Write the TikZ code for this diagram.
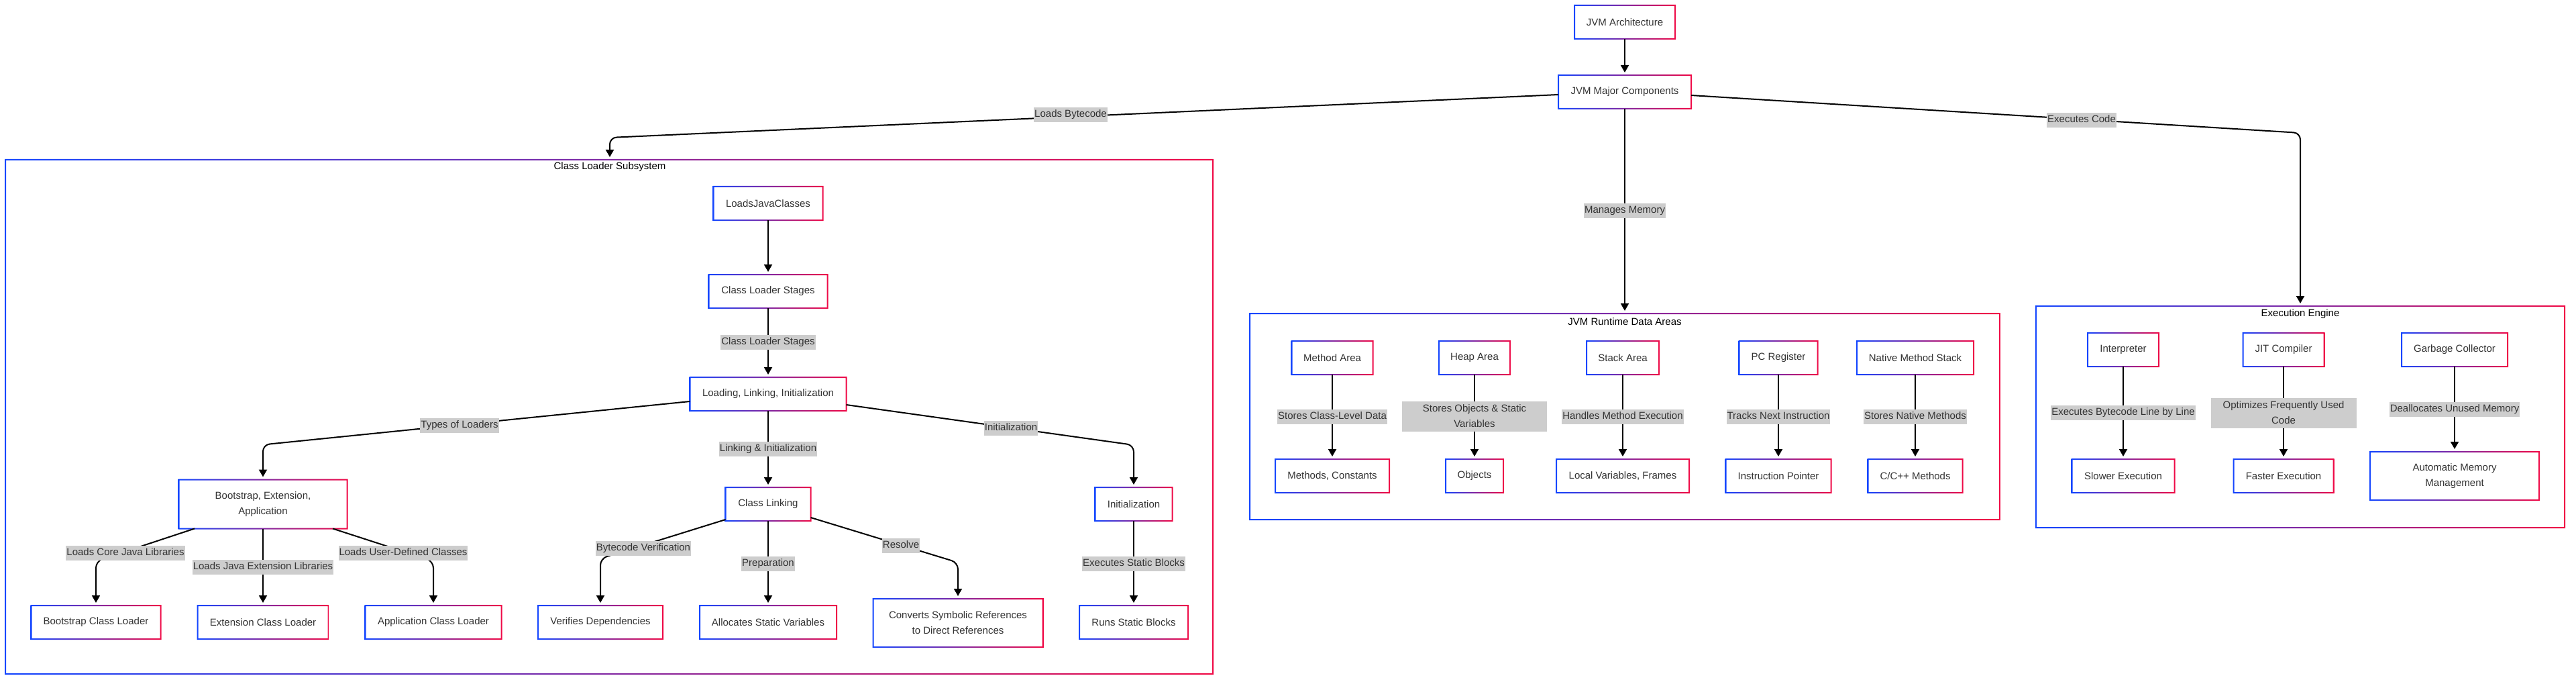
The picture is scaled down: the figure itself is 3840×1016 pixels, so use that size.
\documentclass[tikz,border=0pt]{standalone}
\usepackage{fontspec}
\setmainfont{Liberation Sans}
\usetikzlibrary{arrows.meta,calc}
\definecolor{gblue}{RGB}{20,70,255}
\definecolor{gred}{RGB}{240,10,70}
\definecolor{txt}{RGB}{51,51,51}
\definecolor{lblgray}{RGB}{205,205,205}
\newcommand\gborder[1]{%
  \shade[left color=gblue, right color=gred, even odd rule]
    ($(#1.south west)+(-1,1)$) rectangle ($(#1.north east)+(1,-1)$)
    ($(#1.south west)+(1,-1)$) rectangle ($(#1.north east)+(-1,1)$);}
\tikzset{
  box/.style={rectangle, fill=white, draw=none, outer sep=0pt, inner sep=0pt,
    text=txt, font=\fontsize{15}{23}\selectfont, align=center},
  sz/.style 2 args={minimum width=#1pt, minimum height=#2pt},
  clus/.style={rectangle, fill=white, draw=none, outer sep=0pt, inner sep=0pt},
  ctitle/.style={font=\fontsize{15}{18}\selectfont, text=black, inner sep=0pt},
  conn/.style={draw=black, line width=2pt, rounded corners=10pt,
    -{Triangle[width=12pt,length=11pt]}, shorten >=4pt},
  lbl/.style={fill=lblgray, text=txt, font=\fontsize{15}{23}\selectfont,
    inner xsep=1pt, inner ysep=4pt, text height=11pt, text depth=3.5pt},
  lblm/.style={fill=lblgray, text=txt, font=\fontsize{15}{23}\selectfont,
    inner xsep=1pt, inner ysep=0pt, align=center, minimum height=45pt},
}
\begin{document}
\begin{tikzpicture}[x=1pt, y=-1pt]
\useasboundingbox[fill=white] (0,0) rectangle (3840,1016);

% clusters
\node[clus, sz={1800}{766}] (clsub) at (908,621) {};
\gborder{clsub}
\node[ctitle] (clsubt) at (909,249) {Class Loader Subsystem};
\node[clus, sz={1118}{307}] (rt) at (2422,620.5) {};
\gborder{rt}
\node[ctitle] (rtt) at (2422,479) {JVM Runtime Data Areas};
\node[clus, sz={788}{330}] (ex) at (3429,621) {};
\gborder{ex}
\node[ctitle] (ext) at (3429,468) {Execution Engine};

% top
\node[box, sz={150}{50}] (arch) at (2422,33) {JVM Architecture};
\node[box, sz={198}{50}] (major) at (2422,137) {JVM Major Components};

% class loader subsystem
\node[box, sz={163}{50}] (ljc) at (1145,303) {LoadsJavaClasses};
\node[box, sz={177}{50}] (cls) at (1145,434) {Class Loader Stages};
\node[box, sz={233}{50}] (lli) at (1145,587) {Loading, Linking, Initialization};
\node[box, sz={251}{73}] (bea) at (392,751) {Bootstrap, Extension,\\Application};
\node[box, sz={127}{50}] (cl) at (1145,751) {Class Linking};
\node[box, sz={115}{50}] (ini) at (1690,751) {Initialization};
\node[box, sz={193}{50}] (bcl) at (143,927) {Bootstrap Class Loader};
\node[box, sz={195}{50}] (ecl) at (392,927) {Extension Class Loader};
\node[box, sz={203}{50}] (acl) at (646,927) {Application Class Loader};
\node[box, sz={186}{50}] (vd) at (895,927) {Verifies Dependencies};
\node[box, sz={204}{50}] (asv) at (1145,927) {Allocates Static Variables};
\node[box, sz={253}{72}] (csr) at (1428,928) {Converts Symbolic References\\to Direct References};
\node[box, sz={162}{50}] (rsb) at (1690,927) {Runs Static Blocks};

% runtime data areas
\node[box, sz={121}{50}] (ma) at (1986,533) {Method Area};
\node[box, sz={106}{50}] (ha) at (2198,533) {Heap Area};
\node[box, sz={108}{50}] (sa) at (2419,533) {Stack Area};
\node[box, sz={117}{50}] (pc) at (2651,533) {PC Register};
\node[box, sz={174}{50}] (nms) at (2855,533) {Native Method Stack};
\node[box, sz={170}{50}] (mc) at (1986,709) {Methods, Constants};
\node[box, sz={86}{50}] (ob) at (2198,709) {Objects};
\node[box, sz={198}{50}] (lvf) at (2419,709) {Local Variables, Frames};
\node[box, sz={157}{50}] (ip) at (2651,709) {Instruction Pointer};
\node[box, sz={141}{50}] (cm) at (2855,709) {C/C++ Methods};

% execution engine
\node[box, sz={106}{50}] (inter) at (3165,521) {Interpreter};
\node[box, sz={121}{50}] (jit) at (3404,521) {JIT Compiler};
\node[box, sz={158}{50}] (gc) at (3659,521) {Garbage Collector};
\node[box, sz={153}{50}] (se) at (3165,709) {Slower Execution};
\node[box, sz={149}{50}] (fe) at (3404,709) {Faster Execution};
\node[box, sz={252}{72}] (amm) at (3659,709) {Automatic Memory\\Management};

\foreach \n in {arch,major,ljc,cls,lli,bea,cl,ini,bcl,ecl,acl,vd,asv,csr,rsb,
  ma,ha,sa,pc,nms,mc,ob,lvf,ip,cm,inter,jit,gc,se,fe,amm}{\gborder{\n}}

% connectors
\draw[conn] (arch) -- (major);
\draw[conn] ($(major.west)+(0,4)$) -- ($(clsub.north)+(1,-33)$) -- ($(clsub.north)+(1,0)$);
\draw[conn] (major) -- (rt);
\draw[conn] ($(major.east)+(0,5)$) -- ($(ex.north)+(0,-258)$) -- (ex.north);
\draw[conn] (ljc) -- (cls);
\draw[conn] (cls) -- (lli);
\draw[conn] ($(lli.west)+(0,11)$) -- ($(bea.north)+(0,-52)$) -- (bea.north);
\draw[conn] (lli) -- (cl);
\draw[conn] ($(lli.east)+(0,16)$) -- ($(ini.north)+(0,-63)$) -- (ini.north);
\draw[conn] ($(bea.south)+(-102,0)$) -- ($(bcl.north)+(0,-66)$) -- (bcl.north);
\draw[conn] (bea) -- (ecl);
\draw[conn] ($(bea.south)+(104,0)$) -- ($(acl.north)+(0,-66)$) -- (acl.north);
\draw[conn] ($(cl.south west)+(0,-2)$) -- ($(vd.north)+(0,-70)$) -- (vd.north);
\draw[conn] (cl) -- (asv);
\draw[conn] ($(cl.south east)+(0,-5)$) -- ($(csr.north)+(0,-54)$) -- (csr.north);
\draw[conn] (ini) -- (rsb);
\draw[conn] (ma) -- (mc);
\draw[conn] (ha) -- (ob);
\draw[conn] (sa) -- (lvf);
\draw[conn] (pc) -- (ip);
\draw[conn] (nms) -- (cm);
\draw[conn] (inter) -- (se);
\draw[conn] (jit) -- (fe);
\draw[conn] (gc) -- (amm);

% connector labels
\node[lbl] (l1) at (1596,171) {Loads Bytecode};
\node[lbl] (l2) at (2422,314) {Manages Memory};
\node[lbl] (l3) at (3103,179) {Executes Code};
\node[lbl] (l4) at (1145,510) {Class Loader Stages};
\node[lbl] (l5) at (685,634) {Types of Loaders};
\node[lbl] (l6) at (1145,669) {Linking \& Initialization};
\node[lbl] (l7) at (1507,638) {Initialization};
\node[lbl] (l8) at (187,824) {Loads Core Java Libraries};
\node[lbl] (l9) at (392,845) {Loads Java Extension Libraries};
\node[lbl] (l10) at (601,824) {Loads User-Defined Classes};
\node[lbl] (l11) at (959,817) {Bytecode Verification};
\node[lbl] (l12) at (1145,840) {Preparation};
\node[lbl] (l13) at (1343,813) {Resolve};
\node[lbl] (l14) at (1690,840) {Executes Static Blocks};
\node[lbl] (l15) at (1986,621) {Stores Class-Level Data};
\node[lblm, minimum width=216pt] (l16) at (2198,620) {Stores Objects \& Static\\Variables};
\node[lbl] (l17) at (2419,621) {Handles Method Execution};
\node[lbl] (l18) at (2651,621) {Tracks Next Instruction};
\node[lbl] (l19) at (2855,621) {Stores Native Methods};
\node[lbl] (l20) at (3165,615) {Executes Bytecode Line by Line};
\node[lblm, minimum width=217pt] (l21) at (3404,615) {Optimizes Frequently Used\\Code};
\node[lbl] (l22) at (3659,610) {Deallocates Unused Memory};
\end{tikzpicture}
\end{document}
